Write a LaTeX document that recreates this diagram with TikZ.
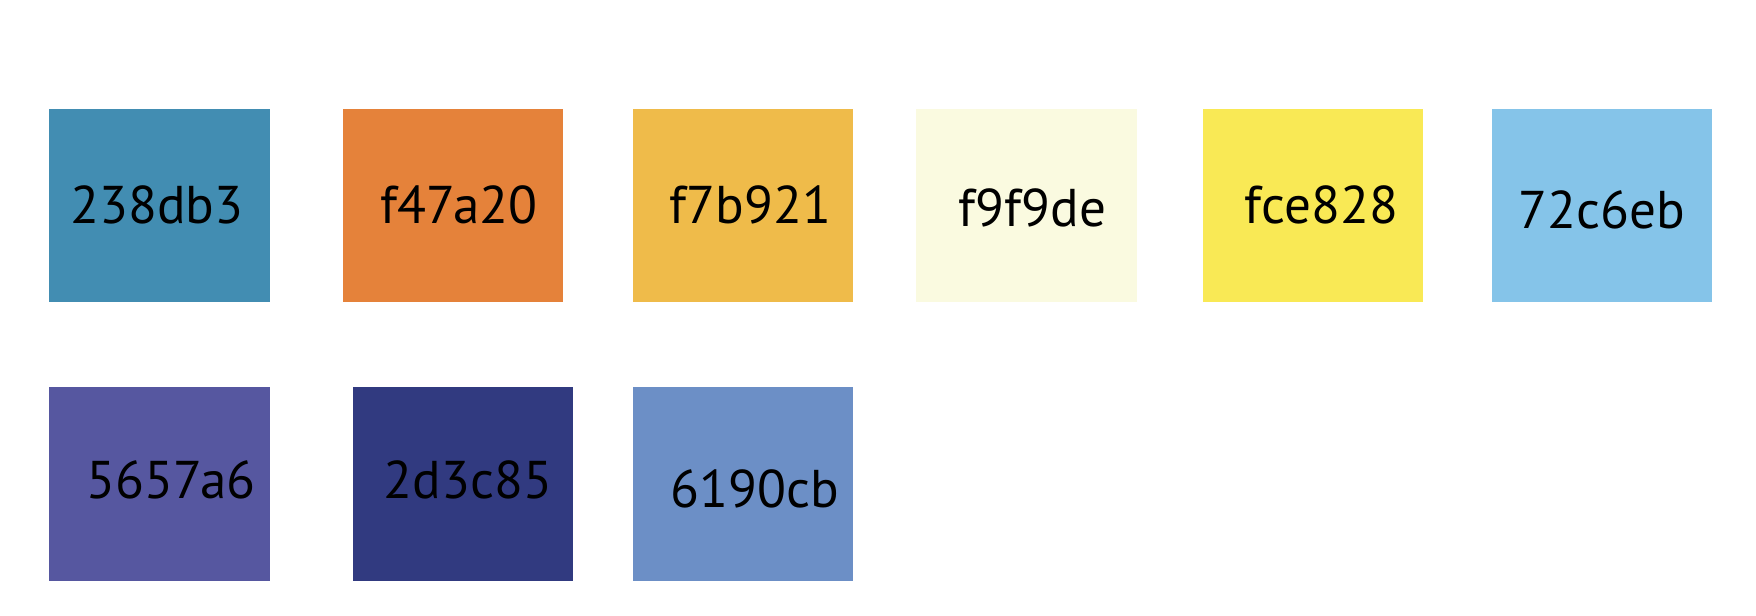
\documentclass[tikz,border=0pt]{standalone}
\usepackage{fontspec}
\setmainfont{PT Sans}
\definecolor{sw238db3}{HTML}{428DB2}
\definecolor{swf47a20}{HTML}{E5823A}
\definecolor{swf7b921}{HTML}{EFBB4A}
\definecolor{swf9f9de}{HTML}{FAFAE0}
\definecolor{swfce828}{HTML}{F9E955}
\definecolor{sw72c6eb}{HTML}{85C4E9}
\definecolor{sw5657a6}{HTML}{5657A0}
\definecolor{sw2d3c85}{HTML}{313A80}
\definecolor{sw6190cb}{HTML}{6C8FC6}
\begin{document}
\begin{tikzpicture}[x=0.1mm,y=-0.1mm]
\tikzstyle{every node}+=[inner sep=0pt]
\tikzstyle{swatch}=[draw=none,minimum width=19.7mm,minimum height=17.3mm]
\tikzstyle{hexlabel}=[anchor=base,font=\fontsize{13.5}{16}\selectfont]
\useasboundingbox (0,0) rectangle (1568,550);
\node [swatch,fill=sw238db3] (s238db3) at (142.5,183.5) {};
\node [swatch,fill=swf47a20] (sf47a20) at (404.5,183.5) {};
\node [swatch,fill=swf7b921] (sf7b921) at (663.5,183.5) {};
\node [swatch,fill=swf9f9de] (sf9f9de) at (916.5,183.5) {};
\node [swatch,fill=swfce828] (sfce828) at (1172.5,183.5) {};
\node [swatch,fill=sw72c6eb] (s72c6eb) at (1430.5,183.5) {};
\node [swatch,fill=sw5657a6] (s5657a6) at (142.5,432) {};
\node [swatch,fill=sw2d3c85] (s2d3c85) at (413.5,432) {};
\node [swatch,fill=sw6190cb] (s6190cb) at (663.5,432) {};
\node [hexlabel] (l238db3) at (140,200) {238db3};
\node [hexlabel] (lf47a20) at (410,200) {f47a20};
\node [hexlabel] (lf7b921) at (670,200) {f7b921};
\node [hexlabel] (lf9f9de) at (922,202) {f9f9de};
\node [hexlabel] (lfce828) at (1180,200) {fce828};
\node [hexlabel] (l72c6eb) at (1430,204) {72c6eb};
\node [hexlabel] (l5657a6) at (153,445) {5657a6};
\node [hexlabel] (l2d3c85) at (418,445) {2d3c85};
\node [hexlabel] (l6190cb) at (674,453) {6190cb};
\end{tikzpicture}
\end{document}
